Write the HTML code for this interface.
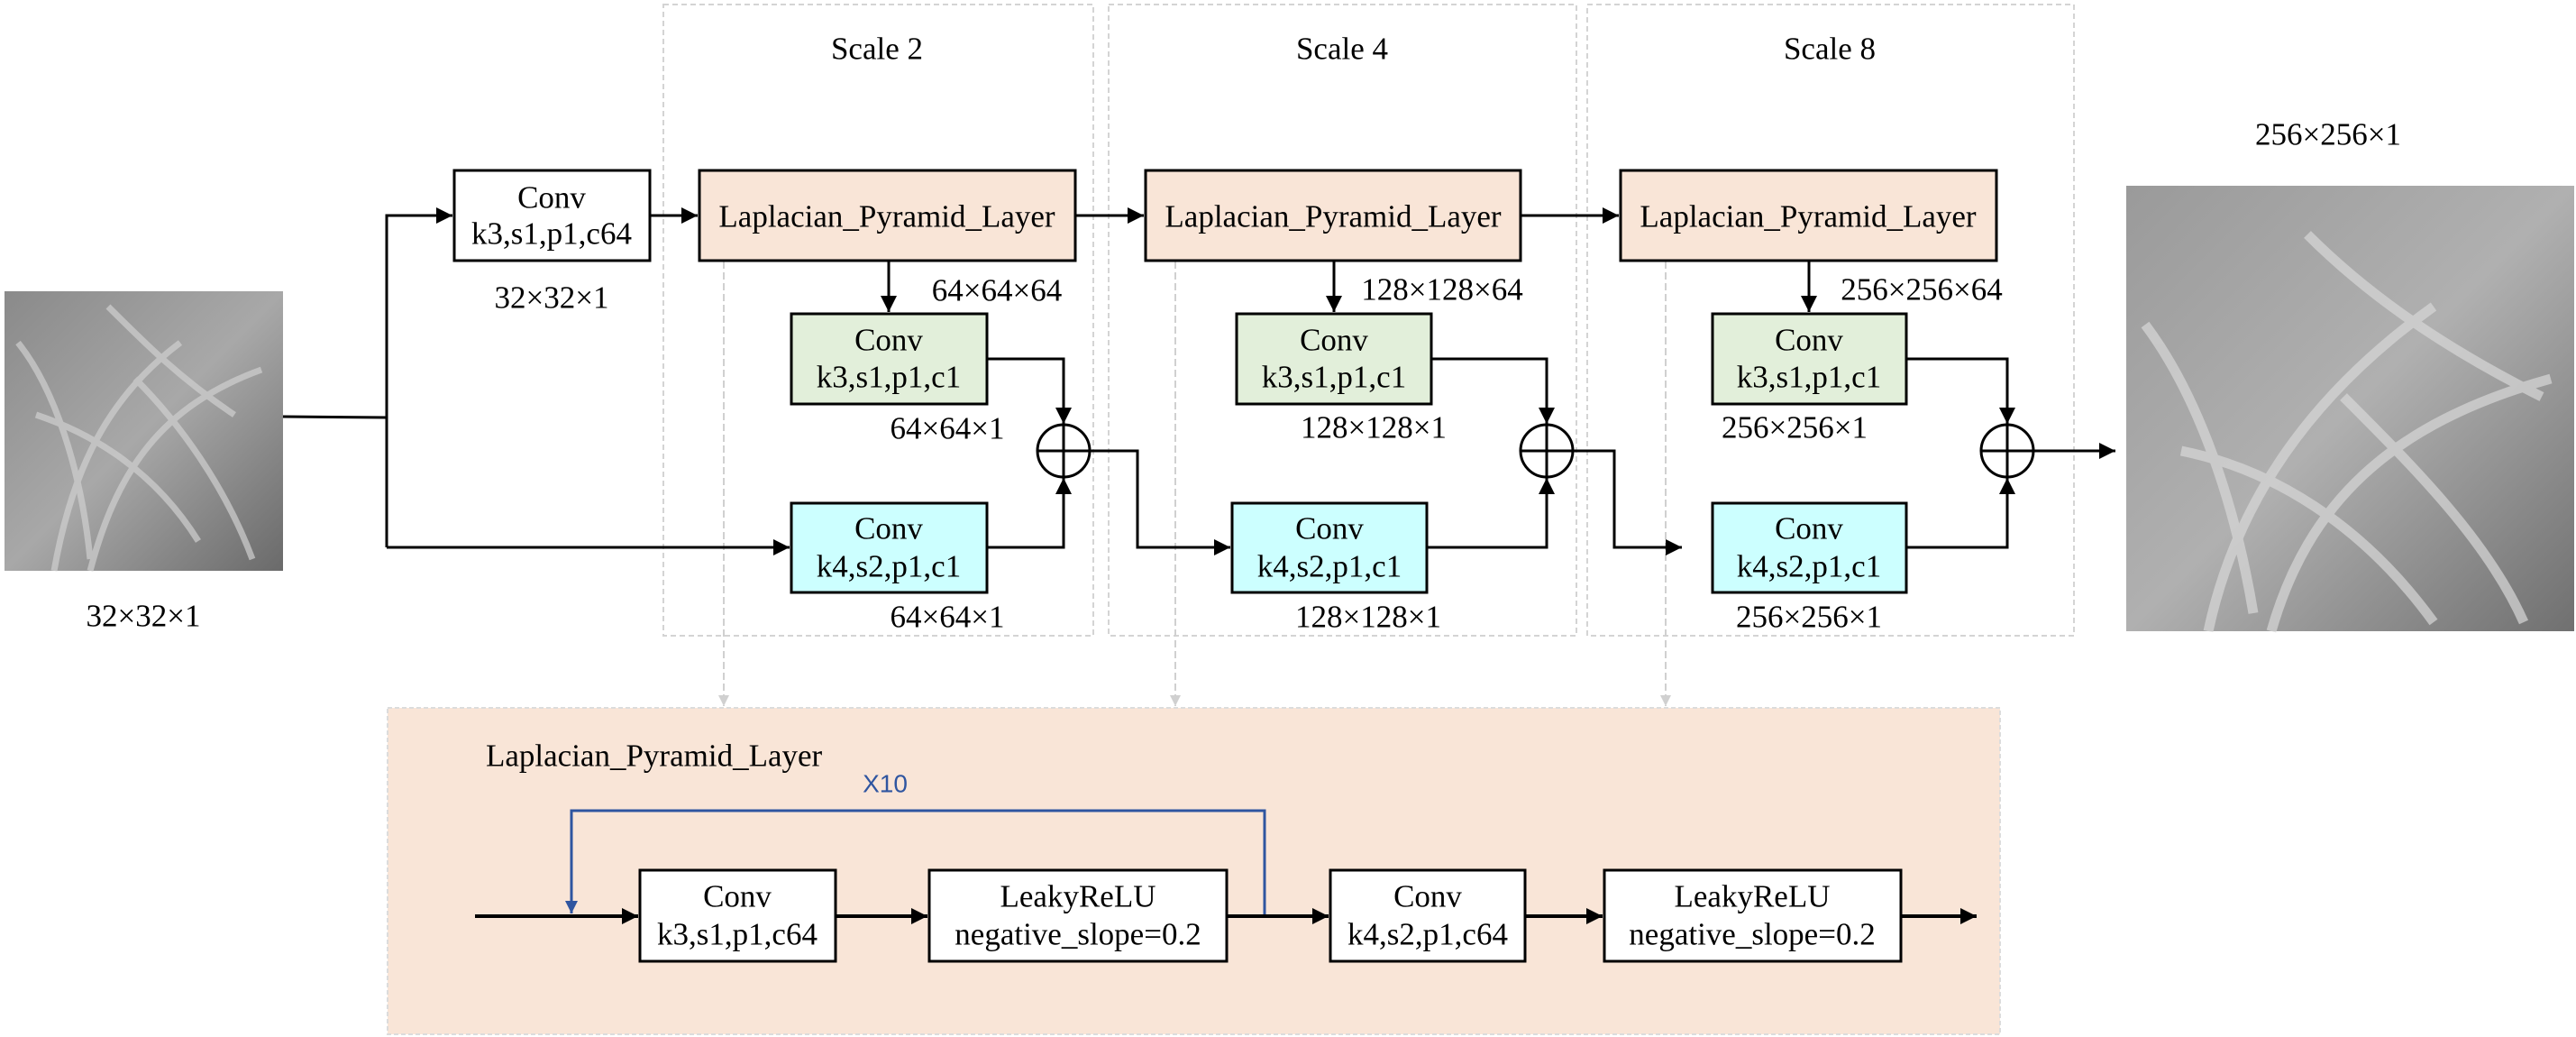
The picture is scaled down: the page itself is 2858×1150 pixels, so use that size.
<!DOCTYPE html>
<html><head><meta charset="utf-8"><style>
html,body{margin:0;padding:0;background:#fff;}
svg{display:block;}
text{font-family:"Liberation Serif","Times New Roman",serif;font-size:35px;fill:#000;}
</style></head><body>
<svg width="2858" height="1150" viewBox="0 0 2858 1150" xmlns="http://www.w3.org/2000/svg">
<defs>
<marker id="ah" viewBox="0 0 10 10" refX="10" refY="5" markerWidth="22" markerHeight="18" markerUnits="userSpaceOnUse" orient="auto"><path d="M0,0 L10,5 L0,10 z" fill="#000"/></marker>
<marker id="ahb" viewBox="0 0 10 10" refX="10" refY="5" markerWidth="26" markerHeight="14" markerUnits="userSpaceOnUse" orient="auto"><path d="M0,0 L10,5 L0,10 z" fill="#2f55a0"/></marker>
<marker id="ahg" viewBox="0 0 10 10" refX="10" refY="5" markerWidth="26" markerHeight="12" markerUnits="userSpaceOnUse" orient="auto"><path d="M0,0 L10,5 L0,10 z" fill="#d0d0d0"/></marker>
<linearGradient id="g1" x1="0" y1="0" x2="1" y2="1"><stop offset="0" stop-color="#8a8a8a"/><stop offset="0.5" stop-color="#a8a8a8"/><stop offset="1" stop-color="#6a6a6a"/></linearGradient>
<linearGradient id="g2" x1="0" y1="0" x2="1" y2="1"><stop offset="0" stop-color="#9a9a9a"/><stop offset="0.5" stop-color="#b0b0b0"/><stop offset="1" stop-color="#707070"/></linearGradient>
</defs>

<!-- scale regions -->
<g fill="none" stroke="#d4d4d4" stroke-width="2" stroke-dasharray="6,4">
<rect x="736" y="5" width="477" height="700"/>
<rect x="1230" y="5" width="519" height="700"/>
<rect x="1761" y="5" width="540" height="700"/>
</g>
<text x="973" y="54" text-anchor="middle" dominant-baseline="central">Scale 2</text>
<text x="1489" y="54" text-anchor="middle" dominant-baseline="central">Scale 4</text>
<text x="2030" y="54" text-anchor="middle" dominant-baseline="central">Scale 8</text>

<!-- bottom region -->
<rect x="430" y="785" width="1789" height="362" fill="#f9e5d7" stroke="#dcdcdc" stroke-width="2" stroke-dasharray="5,3"/>

<!-- gray dashed arrows -->
<g stroke="#d0d0d0" stroke-width="2" stroke-dasharray="8,4" fill="none">
<line x1="803" y1="290" x2="803" y2="783" marker-end="url(#ahg)"/>
<line x1="1304" y1="290" x2="1304" y2="783" marker-end="url(#ahg)"/>
<line x1="1848" y1="290" x2="1848" y2="783" marker-end="url(#ahg)"/>
</g>

<!-- input image -->
<rect x="5" y="323" width="309" height="310" fill="url(#g1)"/>
<g stroke="#d0d0d0" stroke-width="7" fill="none" opacity="0.7">
<path d="M60,633 C80,520 120,440 200,380"/><path d="M100,633 C130,520 180,450 290,410"/><path d="M150,420 C200,470 250,540 280,620"/><path d="M20,380 C60,430 90,520 100,620"/><path d="M120,340 C160,380 200,420 260,460"/><path d="M40,460 C100,480 170,520 220,600"/>
</g>
<!-- output image -->
<rect x="2359" y="206" width="497" height="494" fill="url(#g2)"/>
<g stroke="#d8d8d8" stroke-width="11" fill="none" opacity="0.7">
<path d="M2450,700 C2480,560 2560,440 2700,340"/><path d="M2520,700 C2560,560 2650,470 2830,420"/><path d="M2600,440 C2680,520 2760,600 2800,690"/><path d="M2380,360 C2440,440 2480,560 2500,680"/><path d="M2560,260 C2620,320 2700,380 2820,440"/><path d="M2420,500 C2520,520 2620,580 2700,690"/>
</g>
<text x="2583" y="149" text-anchor="middle" dominant-baseline="central">256×256×1</text>
<text x="159" y="683" text-anchor="middle" dominant-baseline="central">32×32×1</text>

<!-- top connectors -->
<g stroke="#000" stroke-width="3" fill="none">
<polyline points="314,462 429,463"/>
<polyline points="429,607 429,239 502,239" marker-end="url(#ah)"/>
<polyline points="429,607 876,607" marker-end="url(#ah)"/>
<line x1="721" y1="239" x2="774" y2="239" marker-end="url(#ah)"/>
<line x1="1193" y1="239" x2="1269" y2="239" marker-end="url(#ah)"/>
<line x1="1687" y1="239" x2="1796" y2="239" marker-end="url(#ah)"/>
<line x1="986" y1="289" x2="986" y2="346" marker-end="url(#ah)"/>
<line x1="1480" y1="289" x2="1480" y2="346" marker-end="url(#ah)"/>
<line x1="2007" y1="289" x2="2007" y2="346" marker-end="url(#ah)"/>
<polyline points="1095,398 1180,398 1180,470" marker-end="url(#ah)"/>
<polyline points="1095,607 1180,607 1180,530" marker-end="url(#ah)"/>
<polyline points="1588,398 1716,398 1716,470" marker-end="url(#ah)"/>
<polyline points="1583,607 1716,607 1716,530" marker-end="url(#ah)"/>
<polyline points="2115,398 2227,398 2227,470" marker-end="url(#ah)"/>
<polyline points="2115,607 2227,607 2227,530" marker-end="url(#ah)"/>
<polyline points="1209,500 1262,500 1262,607 1365,607" marker-end="url(#ah)"/>
<polyline points="1745,500 1791,500 1791,607 1866,607" marker-end="url(#ah)"/>
<line x1="2256" y1="500" x2="2347" y2="500" marker-end="url(#ah)"/>
</g>

<!-- circles -->
<g stroke="#000" stroke-width="3" fill="#fff">
<ellipse cx="1180" cy="500" rx="29" ry="29"/><ellipse cx="1716" cy="500" rx="29" ry="29"/><ellipse cx="2227" cy="500" rx="29" ry="29"/>
</g>
<g stroke="#000" stroke-width="3">
<line x1="1151" y1="500" x2="1209" y2="500"/><line x1="1180" y1="471" x2="1180" y2="529"/>
<line x1="1687" y1="500" x2="1745" y2="500"/><line x1="1716" y1="471" x2="1716" y2="529"/>
<line x1="2198" y1="500" x2="2256" y2="500"/><line x1="2227" y1="471" x2="2227" y2="529"/>
</g>

<!-- boxes top -->
<g stroke="#000" stroke-width="3">
<rect x="504" y="189" width="217" height="100" fill="#fff"/>
<rect x="776" y="189" width="417" height="100" fill="#f9e5d7"/>
<rect x="1271" y="189" width="416" height="100" fill="#f9e5d7"/>
<rect x="1798" y="189" width="417" height="100" fill="#f9e5d7"/>
<rect x="878" y="348" width="217" height="100" fill="#e2efda"/>
<rect x="1372" y="348" width="216" height="100" fill="#e2efda"/>
<rect x="1900" y="348" width="215" height="100" fill="#e2efda"/>
<rect x="878" y="558" width="217" height="99" fill="#ccffff"/>
<rect x="1367" y="558" width="216" height="99" fill="#ccffff"/>
<rect x="1900" y="558" width="215" height="99" fill="#ccffff"/>
</g>
<g text-anchor="middle" dominant-baseline="central">
<text x="612" y="219">Conv</text><text x="612" y="259">k3,s1,p1,c64</text>
<text x="612" y="330">32×32×1</text>
<text x="984" y="240">Laplacian_Pyramid_Layer</text>
<text x="1479" y="240">Laplacian_Pyramid_Layer</text>
<text x="2006" y="240">Laplacian_Pyramid_Layer</text>
<text x="986" y="377">Conv</text><text x="986" y="418">k3,s1,p1,c1</text>
<text x="1480" y="377">Conv</text><text x="1480" y="418">k3,s1,p1,c1</text>
<text x="2007" y="377">Conv</text><text x="2007" y="418">k3,s1,p1,c1</text>
<text x="986" y="586">Conv</text><text x="986" y="628">k4,s2,p1,c1</text>
<text x="1475" y="586">Conv</text><text x="1475" y="628">k4,s2,p1,c1</text>
<text x="2007" y="586">Conv</text><text x="2007" y="628">k4,s2,p1,c1</text>
<text x="1106" y="322">64×64×64</text>
<text x="1600" y="321">128×128×64</text>
<text x="2132" y="321">256×256×64</text>
<text x="1051" y="475">64×64×1</text>
<text x="1524" y="474">128×128×1</text>
<text x="1991" y="474">256×256×1</text>
<text x="1051" y="684">64×64×1</text>
<text x="1518" y="684">128×128×1</text>
<text x="2007" y="684">256×256×1</text>
</g>

<!-- bottom section -->
<text x="539" y="838" dominant-baseline="central">Laplacian_Pyramid_Layer</text>
<text x="982" y="869" text-anchor="middle" dominant-baseline="central" style="font-family:'Liberation Sans',sans-serif;font-size:28px;fill:#2f55a0;">X10</text>
<polyline points="1403,1016 1403,899 634,899 634,1013" fill="none" stroke="#2f55a0" stroke-width="3" marker-end="url(#ahb)"/>
<g stroke="#000" stroke-width="4" fill="none">
<line x1="527" y1="1016" x2="708" y2="1016" marker-end="url(#ah)"/>
<line x1="927" y1="1016" x2="1029" y2="1016" marker-end="url(#ah)"/>
<line x1="1361" y1="1016" x2="1474" y2="1016" marker-end="url(#ah)"/>
<line x1="1692" y1="1016" x2="1778" y2="1016" marker-end="url(#ah)"/>
<line x1="2109" y1="1016" x2="2193" y2="1016" marker-end="url(#ah)"/>
</g>
<g stroke="#000" stroke-width="3" fill="#fff">
<rect x="710" y="965" width="217" height="101"/>
<rect x="1031" y="965" width="330" height="101"/>
<rect x="1476" y="965" width="216" height="101"/>
<rect x="1780" y="965" width="329" height="101"/>
</g>
<g text-anchor="middle" dominant-baseline="central">
<text x="818" y="994">Conv</text><text x="818" y="1036">k3,s1,p1,c64</text>
<text x="1196" y="994">LeakyReLU</text><text x="1196" y="1036">negative_slope=0.2</text>
<text x="1584" y="994">Conv</text><text x="1584" y="1036">k4,s2,p1,c64</text>
<text x="1944" y="994">LeakyReLU</text><text x="1944" y="1036">negative_slope=0.2</text>
</g>
</svg>
</body></html>
